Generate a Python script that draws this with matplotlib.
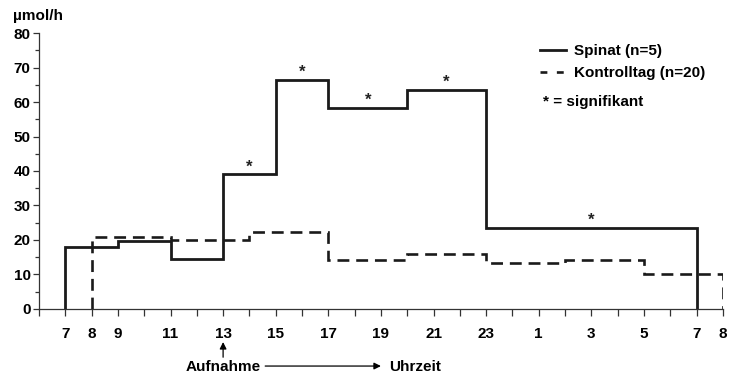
import numpy as np
import matplotlib.pyplot as plt
from matplotlib.lines import Line2D
from matplotlib.ticker import MultipleLocator

plt.rcParams['font.family'] = ['Liberation Sans', 'DejaVu Sans']
plt.rcParams['font.weight'] = 'bold'

# hour of day, continued past midnight (25 = 1 Uhr, 31 = 7 Uhr next day)
spinat_edges = [7, 9, 11, 13, 15, 17, 20, 23, 31]
spinat_vals = [18.0, 19.6, 14.4, 39.0, 66.5, 58.2, 63.5, 23.6]
spinat_sig = [False, False, False, True, True, True, True, True]

kontroll_edges = [8, 11, 14, 17, 20, 23, 26, 29, 32]
kontroll_vals = [20.8, 20.1, 22.4, 14.2, 15.9, 13.4, 14.1, 10.1]

tick_hours = list(range(6, 33))
labeled_hours = [7, 8, 9, 11, 13, 15, 17, 19, 21, 23, 25, 27, 29, 31, 32]

fs = 11

fig = plt.figure(figsize=(7.29, 3.8), dpi=100)
ax = fig.add_axes([0.0535, 0.187, 0.938, 0.726])

ax.stairs(spinat_vals, spinat_edges, baseline=0, color='#1a1a1a', linewidth=2.0)
ax.stairs(kontroll_vals, kontroll_edges, baseline=0, color='#1a1a1a', linewidth=1.9,
          linestyle=(0, (4.5, 2.6)))

# significance markers above the Spinat steps
for lo, hi, v, sig in zip(spinat_edges[:-1], spinat_edges[1:], spinat_vals, spinat_sig):
    if sig:
        ax.annotate('*', xy=((lo + hi) / 2, v), xytext=(0, 0), textcoords='offset points',
                    ha='center', va='bottom', fontsize=12, fontweight='bold', color='#222222')

ax.set_xlim(6, 32)
ax.set_ylim(0, 80)
ax.set_xticks(tick_hours)
ax.set_xticklabels([str(h % 24) if h in labeled_hours else '' for h in tick_hours])
ax.yaxis.set_major_locator(MultipleLocator(10))
ax.yaxis.set_minor_locator(MultipleLocator(5))
ax.tick_params(axis='both', labelsize=fs, colors='#333333', labelcolor='black', width=0.9)
ax.tick_params(axis='x', length=5, pad=8)
ax.tick_params(axis='y', which='major', length=4, pad=2)
ax.tick_params(axis='y', which='minor', length=3, width=0.9, colors='#333333')
for side in ['top', 'right']:
    ax.spines[side].set_visible(False)
for side in ['left', 'bottom']:
    ax.spines[side].set_color('#333333')
    ax.spines[side].set_linewidth(0.9)

ax.text(-0.038, 1.035, '\u00b5mol/h', transform=ax.transAxes, fontsize=fs, fontweight='bold',
        ha='left', va='bottom')

handles = [Line2D([], [], color='#1a1a1a', linewidth=2.0),
           Line2D([], [], color='#1a1a1a', linewidth=1.9, linestyle=(0, (2.6, 3.6)))]
leg = ax.legend(handles, ['Spinat (n=5)', 'Kontrolltag (n=20)'], loc='upper left',
                bbox_to_anchor=(0.732, 0.96), frameon=False, fontsize=fs,
                borderpad=0, borderaxespad=0,
                handlelength=1.75, handletextpad=0.5, labelspacing=0.55)
ax.text(0.737, 0.75, '* = signifikant', transform=ax.transAxes, fontsize=fs,
        fontweight='bold', ha='left', va='center')

# time arrow below the axis
arrow_style = dict(arrowstyle='-|>', color='black', lw=0.9, mutation_scale=10,
                   shrinkA=0, shrinkB=0)
ax.annotate('', xy=(13, -0.12), xytext=(13, -0.175),
            xycoords=('data', 'axes fraction'), textcoords=('data', 'axes fraction'),
            arrowprops=arrow_style)
ax.text(13, -0.21, 'Aufnahme', transform=ax.get_xaxis_transform(), fontsize=fs,
        ha='center', va='center')
ax.annotate('', xy=(19.0, -0.207), xytext=(14.6, -0.207),
            xycoords=('data', 'axes fraction'), textcoords=('data', 'axes fraction'),
            arrowprops=arrow_style)
ax.text(19.3, -0.21, 'Uhrzeit', transform=ax.get_xaxis_transform(), fontsize=fs,
        ha='left', va='center')

fig.savefig('out.png', dpi=100)
